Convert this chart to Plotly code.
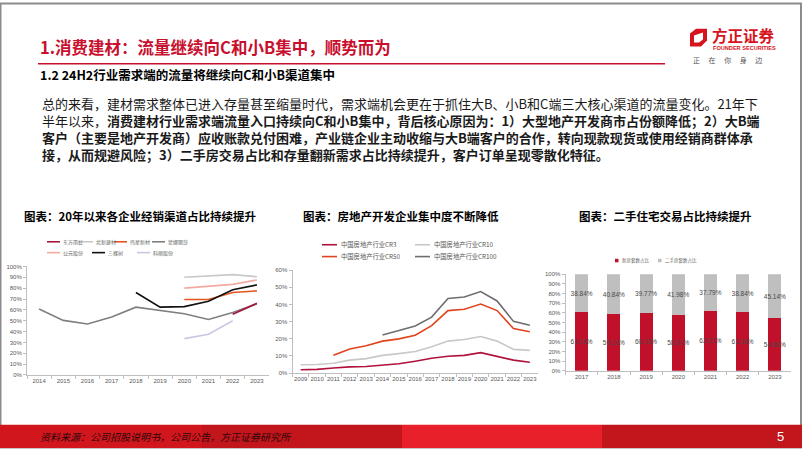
import plotly.graph_objects as go

W, H = 802, 451
def X(p): return p / W
def Y(p): return 1 - p / H

# ---------------- data ----------------
years1 = ['2014', '2015', '2016', '2017', '2018', '2019', '2020', '2021', '2022', '2023']
dongfang = [None, None, None, None, None, None, None, None, 56.0, 66.0]
beixin = [None, None, None, None, None, None, 90.0, 91.5, 92.5, 90.5]
weixing = [None, None, None, None, None, None, 69.5, 69.5, 76.0, 77.5]
mona = [60.7, 50.3, 47.0, 53.4, 62.5, 59.5, 56.4, 51.2, 57.6, 65.5]
gongyuan = [None, None, None, None, None, None, 80.0, 81.5, 83.5, 87.5]
sankeshu = [None, None, None, None, 76.0, 62.5, 63.0, 68.0, 78.5, 83.0]
keshun = [None, None, None, None, None, None, 33.5, 37.5, 50.0, None]
c1_names = ['东方雨虹', '北新建材', '伟星新材', '蒙娜丽莎', '公元股份', '三棵树', '科顺股份']

years2 = ['2009', '2010', '2011', '2012', '2013', '2014', '2015', '2016', '2017',
          '2018', '2019', '2020', '2021', '2022', '2023']
cr3 = [1.9, 2.1, 2.9, 3.6, 3.8, 4.8, 5.4, 6.9, 8.6, 9.8, 10.3, 11.9, 9.8, 7.5, 6.3]
cr10 = [4.8, 5.0, 5.7, 7.5, 8.4, 10.3, 11.3, 12.5, 15.3, 18.6, 19.5, 21.3, 18.6, 13.8, 13.2]
cr50 = [None, None, 10.3, 14.0, 15.9, 18.6, 19.9, 22.0, 27.6, 36.4, 37.2, 40.2, 36.4, 25.9, 24.1]
cr100 = [None, None, None, None, None, 22.2, 24.9, 27.4, 32.6, 43.5, 44.3, 47.5, 42.0, 30.1, 27.8]
c2_names = ['中国房地产行业CR3', '中国房地产行业CR10', '中国房地产行业CR50', '中国房地产行业CR100']

years3 = ['2017', '2018', '2019', '2020', '2021', '2022', '2023']
new_share = [61.16, 59.16, 60.23, 58.02, 62.21, 61.16, 54.86]
second_share = [38.84, 40.84, 39.77, 41.98, 37.79, 38.84, 45.14]
c3_names = ['新房套数占比', '二手房套数占比']

# ---------------- styles ----------------
c1_colors = ['#a3173f', '#c8c8c8', '#e5531f', '#7f7f7f', '#f2aaa2', '#111111', '#c8c8e2']
c2_colors = ['#b0123c', '#c8c8c8', '#e2431c', '#6e6e6e']
c3_colors = ['#c0102a', '#bfbfbf']
CJK = 'Noto Sans CJK SC'
LAT = 'Liberation Sans'

fig = go.Figure()

# chart 1 (draw order: grey underneath)
c1_vals = [dongfang, beixin, weixing, mona, gongyuan, sankeshu, keshun]
for i in [3, 1, 4, 2, 6, 5, 0]:
    fig.add_trace(go.Scatter(x=years1, y=c1_vals[i], mode='lines', name=c1_names[i],
                             line=dict(color=c1_colors[i], width=1.6),
                             xaxis='x', yaxis='y', showlegend=False, hoverinfo='skip'))

# chart 2
c2_vals = [cr3, cr10, cr50, cr100]
for i in [1, 3, 2, 0]:
    fig.add_trace(go.Scatter(x=years2, y=c2_vals[i], mode='lines', name=c2_names[i],
                             line=dict(color=c2_colors[i], width=1.6),
                             xaxis='x2', yaxis='y2', showlegend=False, hoverinfo='skip'))

# chart 3
for vals, name, col in zip([new_share, second_share], c3_names, c3_colors):
    fig.add_trace(go.Bar(x=years3, y=vals, name=name, marker=dict(color=col, line=dict(width=0)),
                         text=[f'{v:.2f}%' for v in vals], textposition='inside',
                         insidetextanchor='middle', textangle=0, constraintext='none',
                         textfont=dict(family=LAT, size=6.5, color='#4a4a4a'),
                         xaxis='x3', yaxis='y3', showlegend=False, hoverinfo='skip'))

axis_common = dict(showline=True, linecolor='#bfbfbf', linewidth=1, ticks='outside',
                   tickcolor='#bfbfbf', ticklen=3, showgrid=False, zeroline=False,
                   tickfont=dict(family=LAT, size=6, color='#595959'))

fig.update_layout(
    width=W, height=H, margin=dict(l=0, r=0, t=0, b=0),
    paper_bgcolor='white', plot_bgcolor='white',
    barmode='stack', bargap=0.6,
    xaxis=dict(domain=[X(27), X(269)], type='category', range=[-0.5, 9.5], tickangle=0,
               tickson='boundaries', anchor='y', **axis_common),
    yaxis=dict(domain=[Y(377), Y(267)], range=[0, 100], dtick=10, ticksuffix='%',
               anchor='x', **axis_common),
    xaxis2=dict(domain=[X(292.5), X(538)], type='category', range=[-0.5, 14.5], tickangle=0,
                tickson='boundaries', anchor='y2', **axis_common),
    yaxis2=dict(domain=[Y(375), Y(270.7)], range=[0, 60], dtick=10, ticksuffix='%',
                anchor='x2', **axis_common),
    xaxis3=dict(domain=[X(565.6), X(791)], type='category', range=[-0.5, 6.5], tickangle=0,
                tickson='boundaries', anchor='y3', **axis_common),
    yaxis3=dict(domain=[Y(372.7), Y(275)], range=[0, 100], dtick=10, ticksuffix='%',
                anchor='x3', **axis_common),
)

shapes = []
ann = []

def text(x, y, s, size, color='#000', family=CJK, xanchor='left', yanchor='middle', align='left'):
    ann.append(dict(x=X(x), y=Y(y), xref='paper', yref='paper', text=s, showarrow=False,
                    xanchor=xanchor, yanchor=yanchor, align=align,
                    font=dict(family=family, size=size, color=color)))

# slide border
shapes.append(dict(type='rect', xref='paper', yref='paper', x0=X(0.5), x1=X(801), y0=Y(450.5), y1=Y(0.5),
                   line=dict(color='#8c8c8c', width=2)))

# header
text(38, 45, '<b>1.消费建材：流量继续向C和小B集中，顺势而为</b>', 16.5, '#c8102e')
shapes.append(dict(type='line', xref='paper', yref='paper', x0=X(38), x1=X(665), y0=Y(61.5), y1=Y(61.5),
                   line=dict(color='#c8102e', width=1.5)))
text(38, 72, '<b>1.2 24H2行业需求端的流量将继续向C和小B渠道集中</b>', 12.5, '#000')

# logo
shapes.append(dict(type='path', xref='paper', yref='paper',
                   path=f'M {X(690)},{Y(31)} L {X(696)},{Y(26)} L {X(707)},{Y(26)} L {X(707)},{Y(38)} '
                        f'L {X(701)},{Y(44)} L {X(690)},{Y(44)} Z',
                   fillcolor='#d7141d', line=dict(width=0)))
shapes.append(dict(type='path', xref='paper', yref='paper',
                   path=f'M {X(694)},{Y(33)} L {X(703)},{Y(30)} L {X(703)},{Y(37)} '
                        f'L {X(699)},{Y(40)} L {X(694)},{Y(40)} Z',
                   fillcolor='white', line=dict(width=0)))
text(710, 32.5, '<b>方正证券</b>', 15.5, '#d7141d')
text(711, 46, '<b>FOUNDER SECURITIES</b>', 5.6, '#d7141d', family=LAT)
text(727, 57.5, '正　 在　 你　 身　 边', 7, '#555555', xanchor='center')

# body text (one block, 4 lines)
body = [
    '总的来看，建材需求整体已进入存量甚至缩量时代，需求端机会更在于抓住大B、小B和C端三大核心渠道的流量变化。21年下',
    '半年以来，<b>消费建材行业需求端流量入口持续向C和小B集中，背后核心原因为：1）大型地产开发商市占份额降低；2）大B端</b>',
    '<b>客户（主要是地产开发商）应收账款兑付困难，产业链企业主动收缩与大B端客户的合作，转向现款现货或使用经销商群体承</b>',
    '<b>接，从而规避风险；3）二手房交易占比和存量翻新需求占比持续提升，客户订单呈现零散化特征。</b>',
]
text(40, 127.5, '<br>'.join(body), 13, '#1a1a1a')

# chart titles
text(140, 216, '<b>图表：20年以来各企业经销渠道占比持续提升</b>', 11.5, '#000', xanchor='center')
text(401, 216, '<b>图表：房地产开发企业集中度不断降低</b>', 11.5, '#000', xanchor='center')
text(665, 216, '<b>图表：二手住宅交易占比持续提升</b>', 11.5, '#000', xanchor='center')

# legend chart 1
c1_leg_pos = [(47, 242), (80, 242), (114, 242), (152, 242), (47, 253), (92, 253), (137, 253)]
for name, col, (lx, ly) in zip(c1_names, c1_colors, c1_leg_pos):
    shapes.append(dict(type='line', xref='paper', yref='paper', x0=X(lx), x1=X(lx + 13), y0=Y(ly), y1=Y(ly),
                       line=dict(color=col, width=1.6)))
    text(lx + 14, ly, name, 5, '#666666')

# legend chart 2
c2_leg_pos = [(322, 245), (415, 245), (322, 257), (415, 257)]
for name, col, (lx, ly) in zip(c2_names, c2_colors, c2_leg_pos):
    shapes.append(dict(type='line', xref='paper', yref='paper', x0=X(lx), x1=X(lx + 15), y0=Y(ly), y1=Y(ly),
                       line=dict(color=col, width=1.6)))
    text(lx + 17, ly, name, 6.3, '#555555')

# legend chart 3
c3_leg_pos = [(615, 261), (658, 261)]
for name, col, (lx, ly) in zip(c3_names, c3_colors, c3_leg_pos):
    shapes.append(dict(type='rect', xref='paper', yref='paper', x0=X(lx), x1=X(lx + 3.5), y0=Y(ly + 1.8), y1=Y(ly - 1.8),
                       fillcolor=col, line=dict(width=0)))
    text(lx + 4.5, ly, name, 4.5, '#666666')

# footer
for x0, x1, col in [(0, 202, '#d2161e'), (202, 402, '#c3151c'), (402, 602, '#e8202a'), (602, 802, '#c2161d')]:
    shapes.append(dict(type='rect', xref='paper', yref='paper', x0=X(x0), x1=X(x1), y0=Y(451), y1=Y(427.5),
                       fillcolor=col, line=dict(width=0), layer='above'))
text(38, 439, '<i>资料来源：公司招股说明书，公司公告，方正证券研究所</i>', 10, '#2a0808')
text(780, 439, '5', 13, '#ffffff', family=LAT, xanchor='center')

fig.update_layout(shapes=shapes, annotations=ann)
fig.write_html('out.html', config={'displayModeBar': False},
               post_script="document.body.style.margin='0';document.body.style.overflow='hidden';")
